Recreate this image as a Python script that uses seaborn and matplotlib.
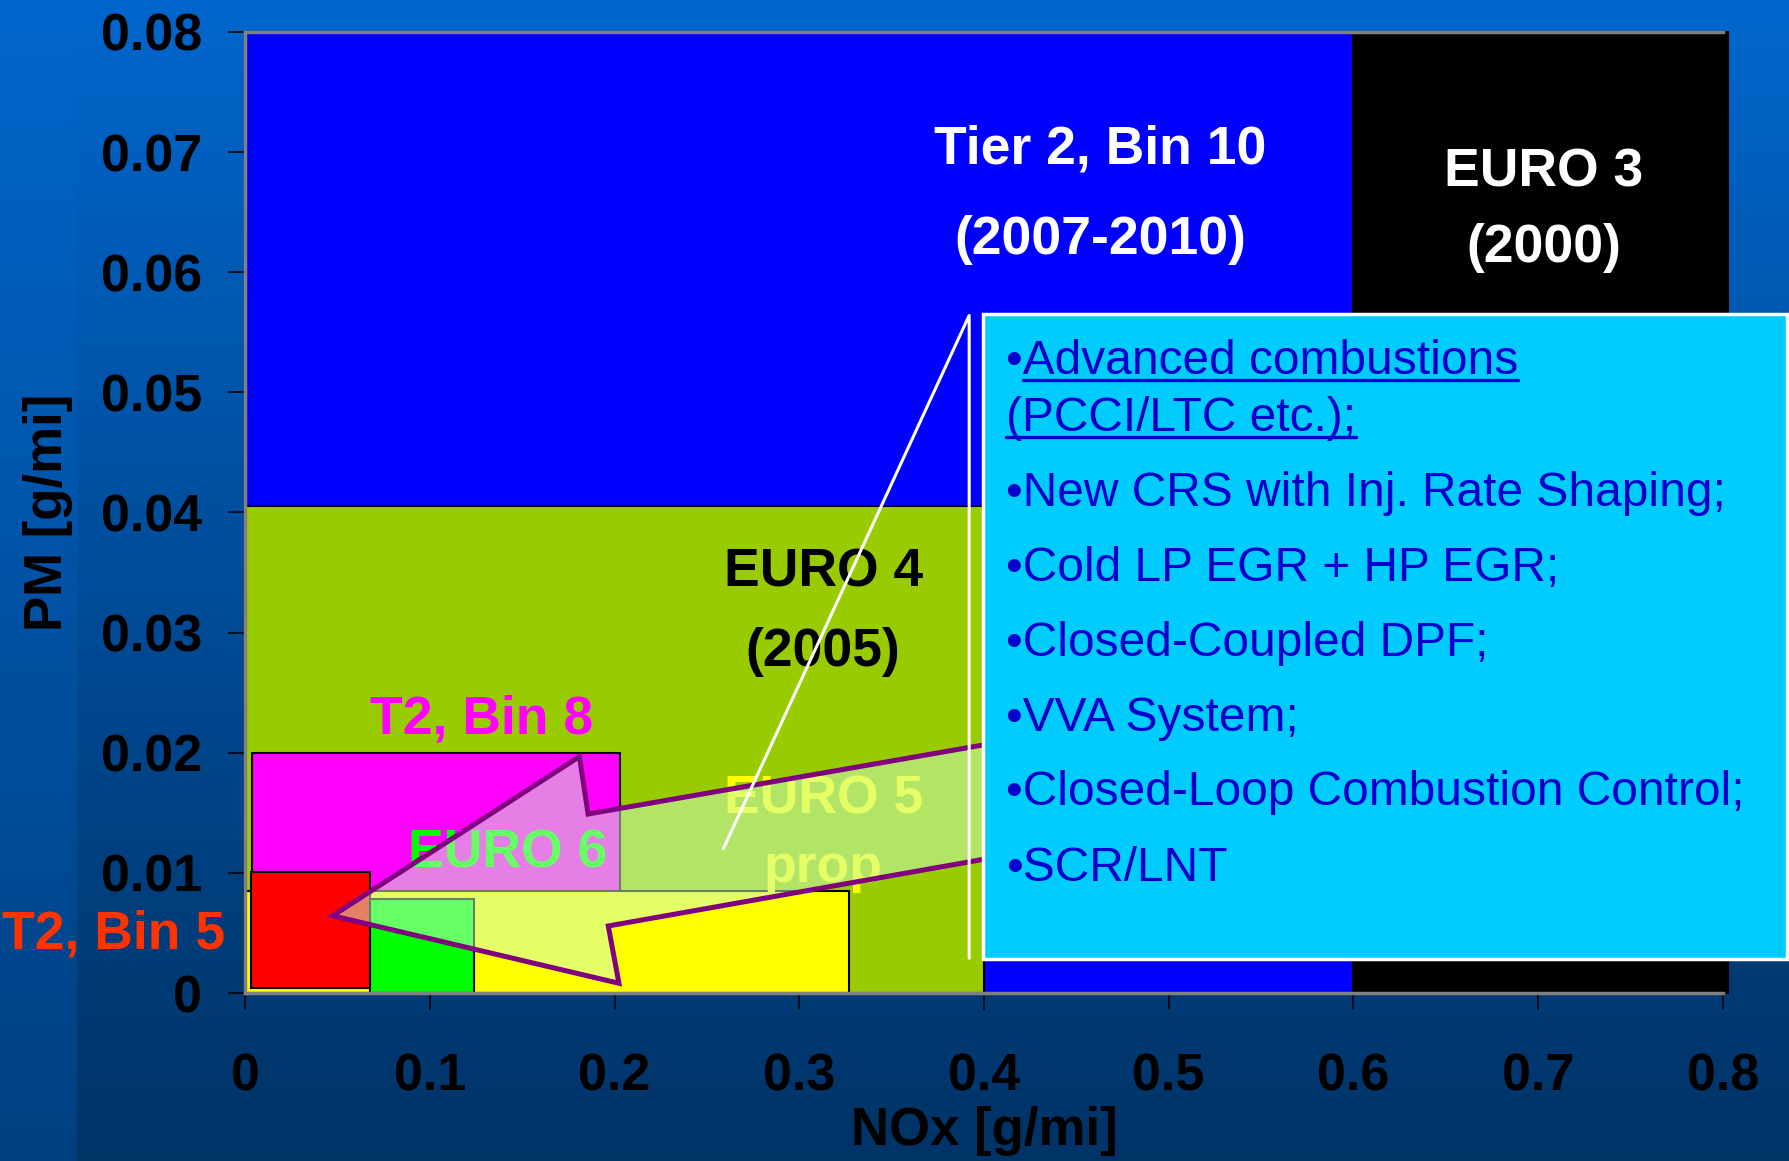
import numpy as np
import matplotlib
matplotlib.use("Agg")
import matplotlib.pyplot as plt
from matplotlib.patches import Rectangle
from matplotlib.lines import Line2D
import seaborn as sns

# Emission limit boxes (NOx vs PM), listed back to front
regions = ["EURO 3", "Tier 2, Bin 10", "EURO 4", "T2, Bin 8", "EURO 5 prop", "EURO 6", "T2, Bin 5"]
nox_lo = [0.0, 0.0, 0.0, 0.004, 0.0, 0.0675, 0.003]
nox_hi = [0.803, 0.6, 0.4, 0.203, 0.327, 0.124, 0.0675]
pm_lo = [0.0, 0.0, 0.0, 0.0, 0.0, 0.0, 0.0004]
pm_hi = [0.08, 0.08, 0.0405, 0.020, 0.0085, 0.0078, 0.0101]
region_colors = ["#000000", "#0000FF", "#99CC00", "#FF00FF", "#FFFF00", "#00FF00", "#FF0000"]

# Region labels
label_text = ["Tier 2, Bin 10", "(2007-2010)", "EURO 3", "(2000)", "EURO 4", "(2005)",
              "T2, Bin 8", "EURO 6", "EURO 5", "prop", "T2, Bin 5"]
label_x = [0.463, 0.463, 0.703, 0.703, 0.313, 0.313, 0.128, 0.142, 0.313, 0.313, -0.071]
label_y = [0.0702, 0.0627, 0.0683, 0.0620, 0.0350, 0.0284, 0.0228, 0.0116, 0.0161, 0.0104, 0.0049]
label_colors = ["white", "white", "white", "white", "black", "black",
                "#FF00FF", "#00FF00", "#FFFF00", "#FFFF00", "#FF3300"]

# Block arrow pointing to the low emission corner
arrow_x = [0.0474, 0.181, 0.1857, 0.45, 0.45, 0.1966, 0.2024]
arrow_y = [0.00643, 0.01968, 0.0149, 0.0220, 0.0125, 0.00558, 0.00081]

# Callout line from the arrow to the text box
callout_x = [0.2589, 0.3920, 0.3920]
callout_y = [0.0120, 0.0564, 0.0029]

# Technology list in the box
box_lines = ["•Advanced combustions", "(PCCI/LTC etc.);", "•New CRS with Inj. Rate Shaping;",
             "•Cold LP EGR + HP EGR;", "•Closed-Coupled DPF;", "•VVA System;",
             "•Closed-Loop Combustion Control;", "•SCR/LNT"]
box_line_y = [0.05154, 0.04682, 0.04052, 0.03428, 0.02808, 0.02178, 0.01565, 0.00934]
box_underlined = [True, True, False, False, False, False, False, False]

xticks = [0, 0.1, 0.2, 0.3, 0.4, 0.5, 0.6, 0.7, 0.8]
xtick_labels = ["0", "0.1", "0.2", "0.3", "0.4", "0.5", "0.6", "0.7", "0.8"]
yticks = [0, 0.01, 0.02, 0.03, 0.04, 0.05, 0.06, 0.07, 0.08]
ytick_labels = ["0", "0.01", "0.02", "0.03", "0.04", "0.05", "0.06", "0.07", "0.08"]

sns.set_style("ticks")
plt.rcParams["font.family"] = ["Liberation Sans", "DejaVu Sans"]
plt.rcParams["font.weight"] = "bold"

fig = plt.figure(figsize=(17.89, 11.61), dpi=100)

# slide background: vertical blue gradient with a lighter strip on the left
bg = fig.add_axes([0, 0, 1, 1], zorder=0)
t = np.linspace(0, 1, 256)[:, None]
top = np.array([0, 102, 204]) / 255
main_grad = top + t * (np.array([0, 51, 102]) / 255 - top)
strip_grad = top + t * (np.array([0, 64, 128]) / 255 - top)
bg.imshow(main_grad[:, None, :], extent=[0, 1, 0, 1], aspect="auto")
bg.imshow(strip_grad[:, None, :], extent=[0, 0.0425, 0, 1], aspect="auto")
bg.set_xlim(0, 1)
bg.set_ylim(0, 1)
bg.axis("off")

ax = fig.add_axes([0.137, 0.1447, 0.826, 0.8278], zorder=1)
ax.patch.set_alpha(0)

widths = np.array(nox_hi) - np.array(nox_lo)
heights = np.array(pm_hi) - np.array(pm_lo)
bars = ax.bar(nox_lo, heights, width=widths, bottom=pm_lo, align="edge",
              color=region_colors, edgecolor="black", linewidth=1.5, zorder=1)
for b in bars:
    b.set_clip_on(False)

for txt, x, y, c in zip(label_text, label_x, label_y, label_colors):
    ax.text(x, y, txt, color=c, fontsize=38.5, fontweight="bold", ha="center", va="center",
            zorder=2, clip_on=False)

ax.fill(arrow_x, arrow_y, facecolor=(0.8, 1.0, 0.8, 0.5), edgecolor="#800080",
        linewidth=3.6, zorder=3)

ax.plot(callout_x, callout_y, color="white", linewidth=2.2, zorder=4)

ax.add_patch(Rectangle((0.3993, 0.0028), 0.8346 - 0.3993, 0.0565 - 0.0028,
                       facecolor="#00CCFF", edgecolor="white", linewidth=2.5,
                       zorder=5, clip_on=False))
box_texts = []
for txt, y in zip(box_lines, box_line_y):
    box_texts.append(ax.text(0.412, y, txt, color="#0000CC", fontsize=34.5, fontweight="normal",
                             ha="left", va="baseline", zorder=6, clip_on=False))

ax.set_xlim(0, 0.8)
ax.set_ylim(0, 0.08)
ax.set_xticks(xticks)
ax.set_xticklabels(xtick_labels)
ax.set_yticks(yticks)
ax.set_yticklabels(ytick_labels)
ax.tick_params(axis="both", direction="out", length=12, width=1.1, color="black",
               labelsize=37.5, labelcolor="black")
ax.tick_params(axis="x", pad=31)
ax.tick_params(axis="y", pad=19)
for lab in ax.get_xticklabels() + ax.get_yticklabels():
    lab.set_fontweight("bold")

for side in ["top", "left", "bottom"]:
    ax.spines[side].set_color("#808080")
    ax.spines[side].set_linewidth(2.5)
ax.spines["right"].set_visible(False)

ax.set_xlabel("NOx [g/mi]", fontsize=38, fontweight="bold", color="black")
ax.set_ylabel("PM [g/mi]", fontsize=38, fontweight="bold", color="black")
ax.xaxis.set_label_coords(0.5, -0.1435)
ax.xaxis.label.set_va("center")
ax.yaxis.set_label_coords(-0.1335, 0.5)
ax.yaxis.label.set_va("center")

# underline the first item of the list
fig.canvas.draw()
renderer = fig.canvas.get_renderer()
probe = ax.text(0, 0, "•", fontsize=34.5, fontweight="normal")
bullet_w = probe.get_window_extent(renderer).width
probe.remove()
for tx, y, under in zip(box_texts, box_line_y, box_underlined):
    if not under:
        continue
    bb = tx.get_window_extent(renderer)
    x0 = bb.x0 + (bullet_w if tx.get_text().startswith("•") else 0)
    base = ax.transData.transform((0.412, y))[1] - 6
    fig.add_artist(Line2D([x0 / fig.bbox.width, bb.x1 / fig.bbox.width],
                          [base / fig.bbox.height, base / fig.bbox.height],
                          color="#0000CC", linewidth=2.4, zorder=7))

fig.savefig("out.png", dpi=100)
